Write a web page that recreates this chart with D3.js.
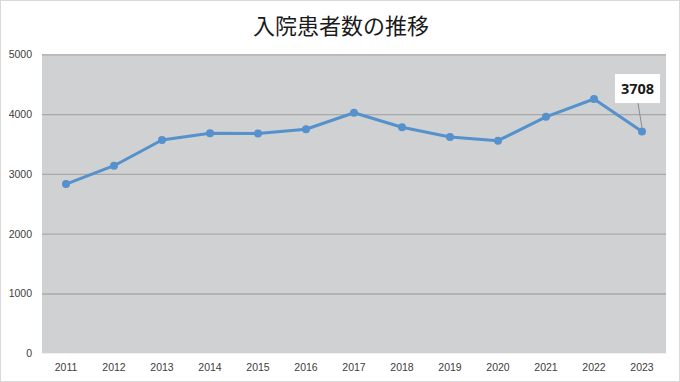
<!DOCTYPE html>
<html><head><meta charset="utf-8">
<script src="https://cdn.jsdelivr.net/npm/d3@7"></script>
<style>html,body{margin:0;padding:0;background:#fff;}svg{display:block;}</style>
</head><body>
<script>
const years = ["2011","2012","2013","2014","2015","2016","2017","2018","2019","2020","2021","2022","2023"];
const patients = [2830,3137,3567,3679,3676,3746,4022,3780,3617,3555,3955,4253,3708];
const yTicks = [0,1000,2000,3000,4000,5000];
const title = "入院患者数の推移";
const labelIndex = 12;

const W=680,H=382;
const m={left:42,right:14,top:54.3,bottom:28.7};
const svg=d3.select("body").append("svg").attr("width",W).attr("height",H);
svg.append("rect").attr("x",0.5).attr("y",0.5).attr("width",W-1).attr("height",H-1).attr("fill","#fff").attr("stroke","#d9d9d9");

const x=d3.scaleBand().domain(years).range([m.left,W-m.right]);
const y=d3.scaleLinear().domain([0,5000]).range([H-m.bottom,m.top]);

svg.append("rect").attr("x",m.left).attr("y",m.top).attr("width",W-m.right-m.left).attr("height",H-m.bottom-m.top).attr("fill","#d0d1d3");

svg.append("text").attr("x",341).attr("y",34).attr("text-anchor","middle")
  .attr("font-family","'Noto Sans CJK JP'").attr("font-size",22).attr("fill","#1a1a1a").text(title);

const ga=svg.append("g").attr("transform",`translate(${m.left},0)`)
  .call(d3.axisLeft(y).tickValues(yTicks).tickSize(-(W-m.right-m.left)).tickPadding(10).tickFormat(d3.format("d")));
ga.select(".domain").remove();
ga.selectAll(".tick line").attr("stroke","#a9a9a9").attr("stroke-width",1.3);
ga.selectAll(".tick").filter(d=>d===0).select("line").remove();
ga.selectAll("text").attr("font-family","'Liberation Sans',sans-serif").attr("font-size",10.5).attr("fill","#404040");

const gx=svg.append("g").attr("transform",`translate(0,${H-m.bottom})`)
  .call(d3.axisBottom(x).tickSize(0).tickPadding(10));
gx.select(".domain").remove();
gx.selectAll("text").attr("font-family","'Liberation Sans',sans-serif").attr("font-size",10.5).attr("fill","#404040");

const cx=(d,i)=>x(years[i])+x.bandwidth()/2;
svg.append("path").datum(patients)
  .attr("d",d3.line().x((d,i)=>cx(d,i)).y(d=>y(d)))
  .attr("fill","none").attr("stroke","#5591cb").attr("stroke-width",3).attr("stroke-linejoin","round");
svg.selectAll("circle.pt").data(patients).join("circle").attr("class","pt")
  .attr("cx",(d,i)=>cx(d,i)).attr("cy",d=>y(d)).attr("r",4).attr("fill","#5591cb");

// data label
const lx=cx(null,labelIndex), ly=y(patients[labelIndex]);
const bx=lx-27, by=ly-57.5, bw=45, bh=29;
svg.append("line").attr("x1",lx-4).attr("y1",by+bh).attr("x2",lx).attr("y2",ly-4)
  .attr("stroke","#8c8c8c").attr("stroke-width",1);
svg.append("rect").attr("x",bx).attr("y",by).attr("width",bw).attr("height",bh).attr("fill","#fff");
svg.append("text").attr("x",bx+bw/2).attr("y",by+bh/2+5).attr("text-anchor","middle")
  .attr("font-family","'Open Sans',sans-serif").attr("font-weight","bold").attr("font-size",14.5).attr("fill","#1a1a1a")
  .text(patients[labelIndex]);
</script>
</body></html>
